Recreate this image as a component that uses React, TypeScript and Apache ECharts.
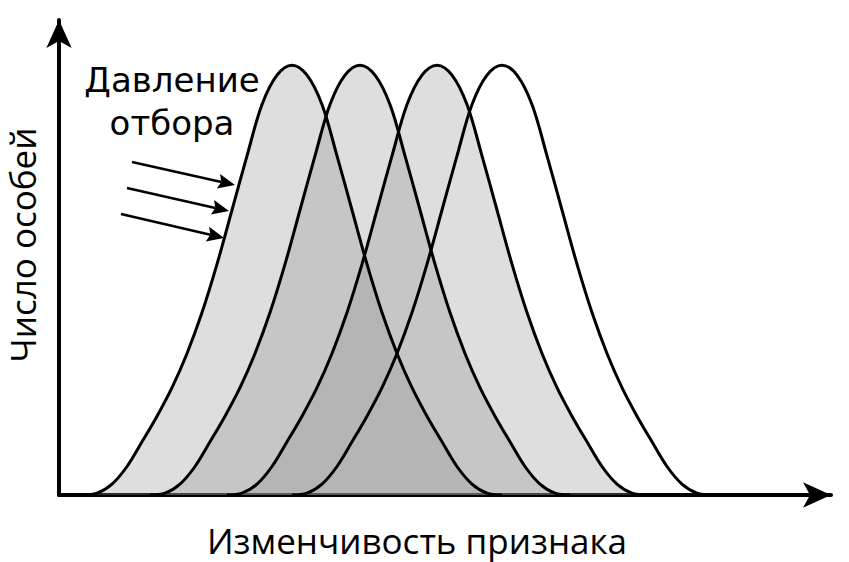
import { useEffect, useRef } from "react";
import * as echarts from "echarts";

// Profile of one bell curve: offset from the peak (x units) and height (y units)
const profileOffsets = [-210, -195, -180, -165, -150, -135, -120, -105, -90, -75, -60, -45, -30, -15, 0, 15, 30, 45, 60, 75, 90, 105, 120, 135, 150, 165, 180, 195, 210];
const profileHeights = [0, 0.4, 2.3, 6.0, 11.2, 16.6, 22.6, 29.8, 38.4, 48.6, 60.0, 71.4, 82.2, 88.4, 90.5, 88.4, 82.2, 71.4, 60.0, 48.6, 38.4, 29.8, 22.6, 16.6, 11.2, 6.0, 2.3, 0.4, 0];
// Peak positions of the four generations (x units)
const curveCenters = [233, 301, 378, 443];
const curveFilled = [true, true, true, false];

const xAxisTitle = "Изменчивость признака";
const yAxisTitle = "Число особей";
const annotationLines = ["Давление", "отбора"];

// Selection-pressure arrows: [startX, startY, tipX, tipY] (pixels, annotation only)
const pressureArrows = [
  [132, 162, 235, 185],
  [127, 188, 229, 211],
  [121, 214, 224, 238],
];

function arrowGraphics() {
  const els: any[] = [];
  const headLen = 17;
  const headHalf = 7.5;
  pressureArrows.forEach(([x1, y1, x2, y2]) => {
    const dx = x2 - x1;
    const dy = y2 - y1;
    const len = Math.sqrt(dx * dx + dy * dy);
    const ux = dx / len;
    const uy = dy / len;
    const bx = x2 - ux * headLen;
    const by = y2 - uy * headLen;
    els.push({
      type: "line",
      shape: { x1, y1, x2: bx + ux * 3, y2: by + uy * 3 },
      style: { stroke: "#000", lineWidth: 2.5 },
      z: 10,
    });
    els.push({
      type: "polygon",
      shape: {
        points: [
          [x2, y2],
          [bx - uy * headHalf, by + ux * headHalf],
          [bx + ux * 3, by + uy * 3],
          [bx + uy * headHalf, by - ux * headHalf],
        ],
      },
      style: { fill: "#000" },
      z: 10,
    });
  });
  return els;
}

export default function App() {
  const ref = useRef<HTMLDivElement>(null);
  useEffect(() => {
    const chart = echarts.init(ref.current!, null, { renderer: "svg" });
    const series: any[] = [];
    const curves = curveCenters.map((c) => profileOffsets.map((o, k) => [c + o, profileHeights[k]]));
    curves.forEach((data, i) => {
      if (curveFilled[i]) {
        series.push({
          type: "line",
          data,
          smooth: 0.35,
          symbol: "none",
          silent: true,
          lineStyle: { width: 0, opacity: 0 },
          areaStyle: { color: "rgb(140,140,140)", opacity: 0.29 },
          z: 1,
        });
      }
    });
    curves.forEach((data) => {
      series.push({
        type: "line",
        data,
        smooth: 0.35,
        symbol: "none",
        silent: true,
        lineStyle: { color: "#000", width: 3 },
        z: 3,
      });
    });

    chart.setOption({
      animation: false,
      backgroundColor: "#fff",
      grid: { left: 59, right: 18, top: 20, bottom: 67 },
      xAxis: {
        type: "value",
        min: 0,
        max: 772,
        axisLine: {
          show: true,
          symbol: ["none", "arrow"],
          symbolSize: [19, 28],
          lineStyle: { color: "#000", width: 4 },
        },
        axisTick: { show: false },
        axisLabel: { show: false },
        splitLine: { show: false },
      },
      yAxis: {
        type: "value",
        min: 0,
        max: 100,
        axisLine: {
          show: true,
          symbol: ["none", "arrow"],
          symbolSize: [19, 28],
          lineStyle: { color: "#000", width: 4 },
        },
        axisTick: { show: false },
        axisLabel: { show: false },
        splitLine: { show: false },
      },
      series,
      graphic: [
        {
          type: "text",
          x: 172,
          y: 80,
          style: {
            text: annotationLines[0],
            fill: "#000",
            font: '34px "DejaVu Sans"',
            textAlign: "center",
            textVerticalAlign: "middle",
          },
          z: 10,
        },
        {
          type: "text",
          x: 172,
          y: 123,
          style: {
            text: annotationLines[1],
            fill: "#000",
            font: '34px "DejaVu Sans"',
            textAlign: "center",
            textVerticalAlign: "middle",
          },
          z: 10,
        },
        {
          type: "text",
          x: 417,
          y: 540,
          style: {
            text: xAxisTitle,
            fill: "#000",
            font: '35px "Open Sans"',
            textAlign: "center",
            textVerticalAlign: "middle",
          },
          z: 10,
        },
        {
          type: "text",
          x: 22,
          y: 245,
          rotation: Math.PI / 2,
          style: {
            text: yAxisTitle,
            fill: "#000",
            font: '35px "Open Sans"',
            textAlign: "center",
            textVerticalAlign: "middle",
          },
          z: 10,
        },
        ...arrowGraphics(),
      ],
    });
    return () => chart.dispose();
  }, []);
  return <div ref={ref} style={{ width: 849, height: 562, position: "absolute", left: 0, top: 0 }} />;
}
